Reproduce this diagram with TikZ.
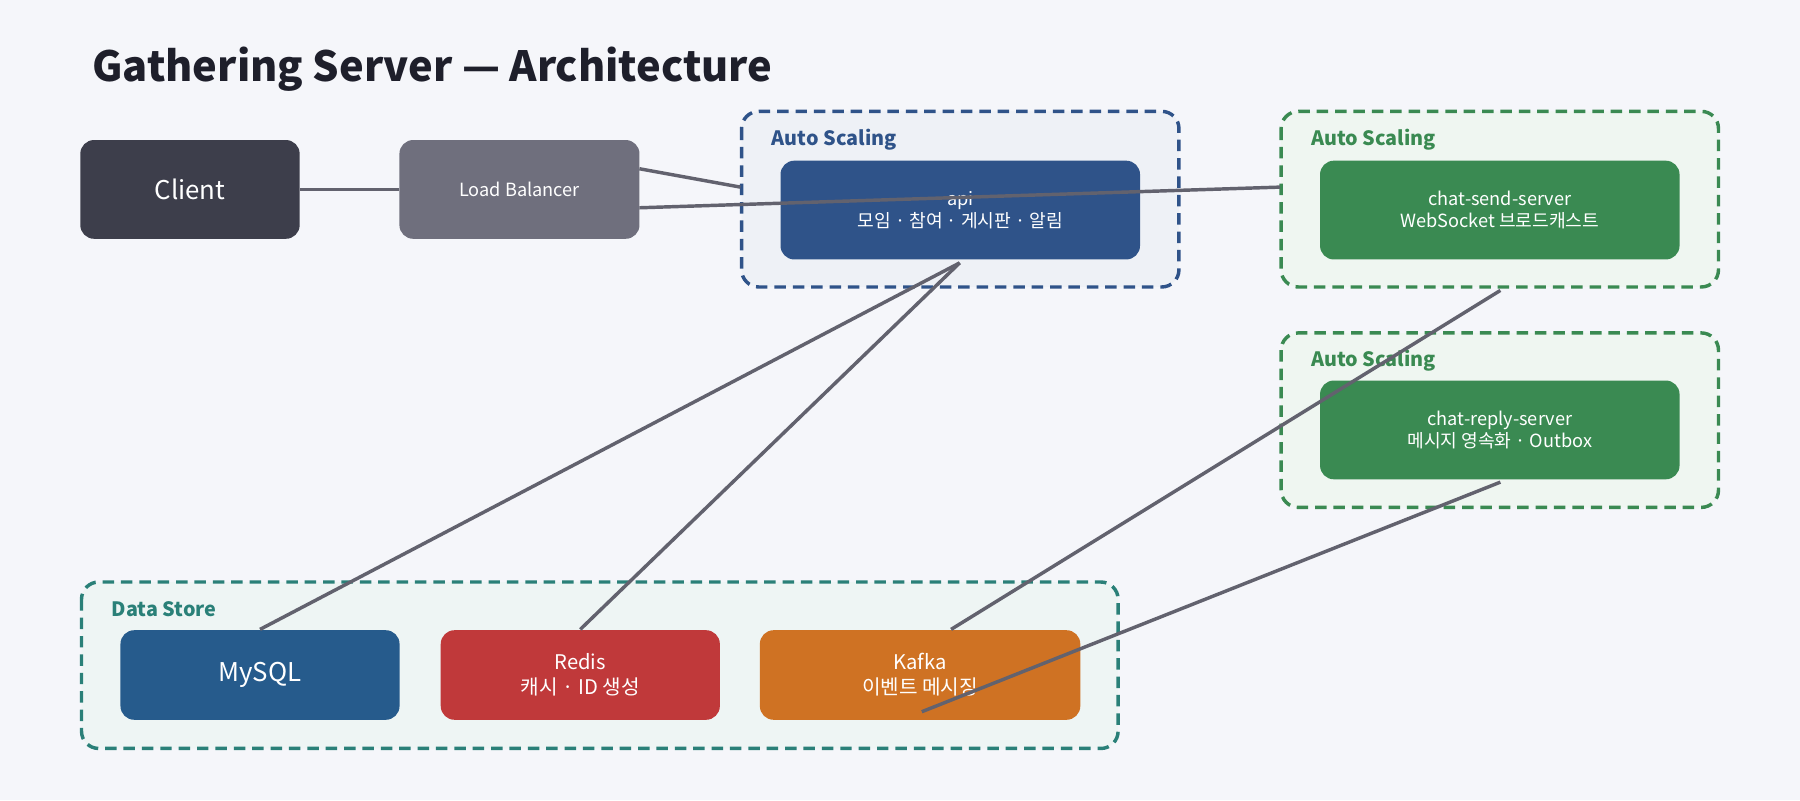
\documentclass[tikz,border=0pt]{standalone}
\usepackage{fontspec}
\setmainfont{Noto Sans CJK KR}
\usepackage{tikz}
\definecolor{bgc}{HTML}{F5F6FA}
\definecolor{titlec}{HTML}{1E1F2B}
\definecolor{clientc}{HTML}{3D3E4B}
\definecolor{lbc}{HTML}{6F6F7D}
\definecolor{apic}{HTML}{2F5389}
\definecolor{chatc}{HTML}{3A8A52}
\definecolor{storec}{HTML}{2A8078}
\definecolor{mysqlc}{HTML}{265B8C}
\definecolor{redisc}{HTML}{C0393A}
\definecolor{kafkac}{HTML}{CF7223}
\definecolor{wirec}{HTML}{62626E}
\tikzset{
    box/.style={rounded corners=0.12cm, text=white, align=center, inner sep=0pt, font=\fontsize{4.5pt}{5.6pt}\selectfont},
    group/.style={draw, dashed, dash pattern=on 0.1cm off 0.06cm, line width=0.03cm, rounded corners=0.15cm},
    grouplabel/.style={anchor=west, font=\bfseries\fontsize{4.9pt}{6pt}\selectfont},
    wire/.style={draw=wirec, line width=0.03cm} }
\usetikzlibrary{calc, positioning}
\begin{document}
\begin{tikzpicture}[x=0.01cm, y=-0.01cm]
	\fill[bgc] (0,0) rectangle (1568,697);
	\useasboundingbox (0,0) rectangle (1568,697);
	\node[anchor=west, text=titlec, font=\bfseries\fontsize{10.3pt}{12pt}\selectfont] (title) at (68,60) {Gathering Server — Architecture};
	% ---- groups
	\draw[group, draw=apic, fill=apic!8] (646,97) rectangle (1027,250);
	\node[grouplabel, text=apic] (apilbl) at (660,122) {Auto Scaling};
	\draw[group, draw=chatc, fill=chatc!8] (1116,97) rectangle (1497,250);
	\node[grouplabel, text=chatc] (sendlbl) at (1130,122) {Auto Scaling};
	\draw[group, draw=chatc, fill=chatc!8] (1116,290) rectangle (1497,442);
	\node[grouplabel, text=chatc] (replylbl) at (1130,314) {Auto Scaling};
	\draw[group, draw=storec, fill=storec!8] (71,507) rectangle (974,652);
	\node[grouplabel, text=storec] (storelbl) at (85,531) {Data Store};
	% ---- nodes
	\node[box, fill=clientc, minimum width=1.91cm, minimum height=0.86cm, font=\fontsize{6.4pt}{7pt}\selectfont] (client) at (165.5,165) {Client};
	\node[box, fill=lbc, minimum width=2.09cm, minimum height=0.86cm] (lb) at (452.5,165) {Load Balancer};
	\node[box, fill=apic, minimum width=3.13cm, minimum height=0.86cm] (api) at (836.5,183) {api\\모임 · 참여 · 게시판 · 알림};
	\node[box, fill=chatc, minimum width=3.13cm, minimum height=0.86cm] (send) at (1306.5,183) {chat-send-server\\WebSocket 브로드캐스트};
	\node[box, fill=chatc, minimum width=3.13cm, minimum height=0.86cm] (reply) at (1306.5,374.5) {chat-reply-server\\메시지 영속화 · Outbox};
	\node[box, fill=mysqlc, minimum width=2.43cm, minimum height=0.78cm, font=\fontsize{6.4pt}{7pt}\selectfont] (mysql) at (226.5,588) {MySQL};
	\node[box, fill=redisc, minimum width=2.43cm, minimum height=0.78cm, font=\fontsize{5pt}{6.2pt}\selectfont] (redis) at (505.5,588) {Redis\\캐시 · ID 생성};
	\node[box, fill=kafkac, minimum width=2.79cm, minimum height=0.78cm, font=\fontsize{5pt}{6.2pt}\selectfont] (kafka) at (801.5,588) {Kafka\\이벤트 메시징};
	% ---- wire ends
	\coordinate (lbA) at (557,147);
	\coordinate (lbB) at (557,181);
	\coordinate (apiIn) at (645,163);
	\coordinate (sendIn) at (1115,163);
	\coordinate (apiOut) at (836,229);
	\coordinate (sendOut) at (1307,253);
	\coordinate (replyOut) at (1307,420);
	\coordinate (kafkaIn) at (803,620);
	% ---- wires
	\draw[wire] (client) -- (lb);
	\draw[wire] (lbA) -- (apiIn);
	\draw[wire] (lbB) -- (sendIn);
	\draw[wire] (apiOut) -- (mysql.north);
	\draw[wire] (apiOut) -- (redis.north);
	\draw[wire] (sendOut) -- ($(kafka.north)+(27,0)$);
	\draw[wire] (replyOut) -- (kafkaIn);
\end{tikzpicture}
\end{document}
